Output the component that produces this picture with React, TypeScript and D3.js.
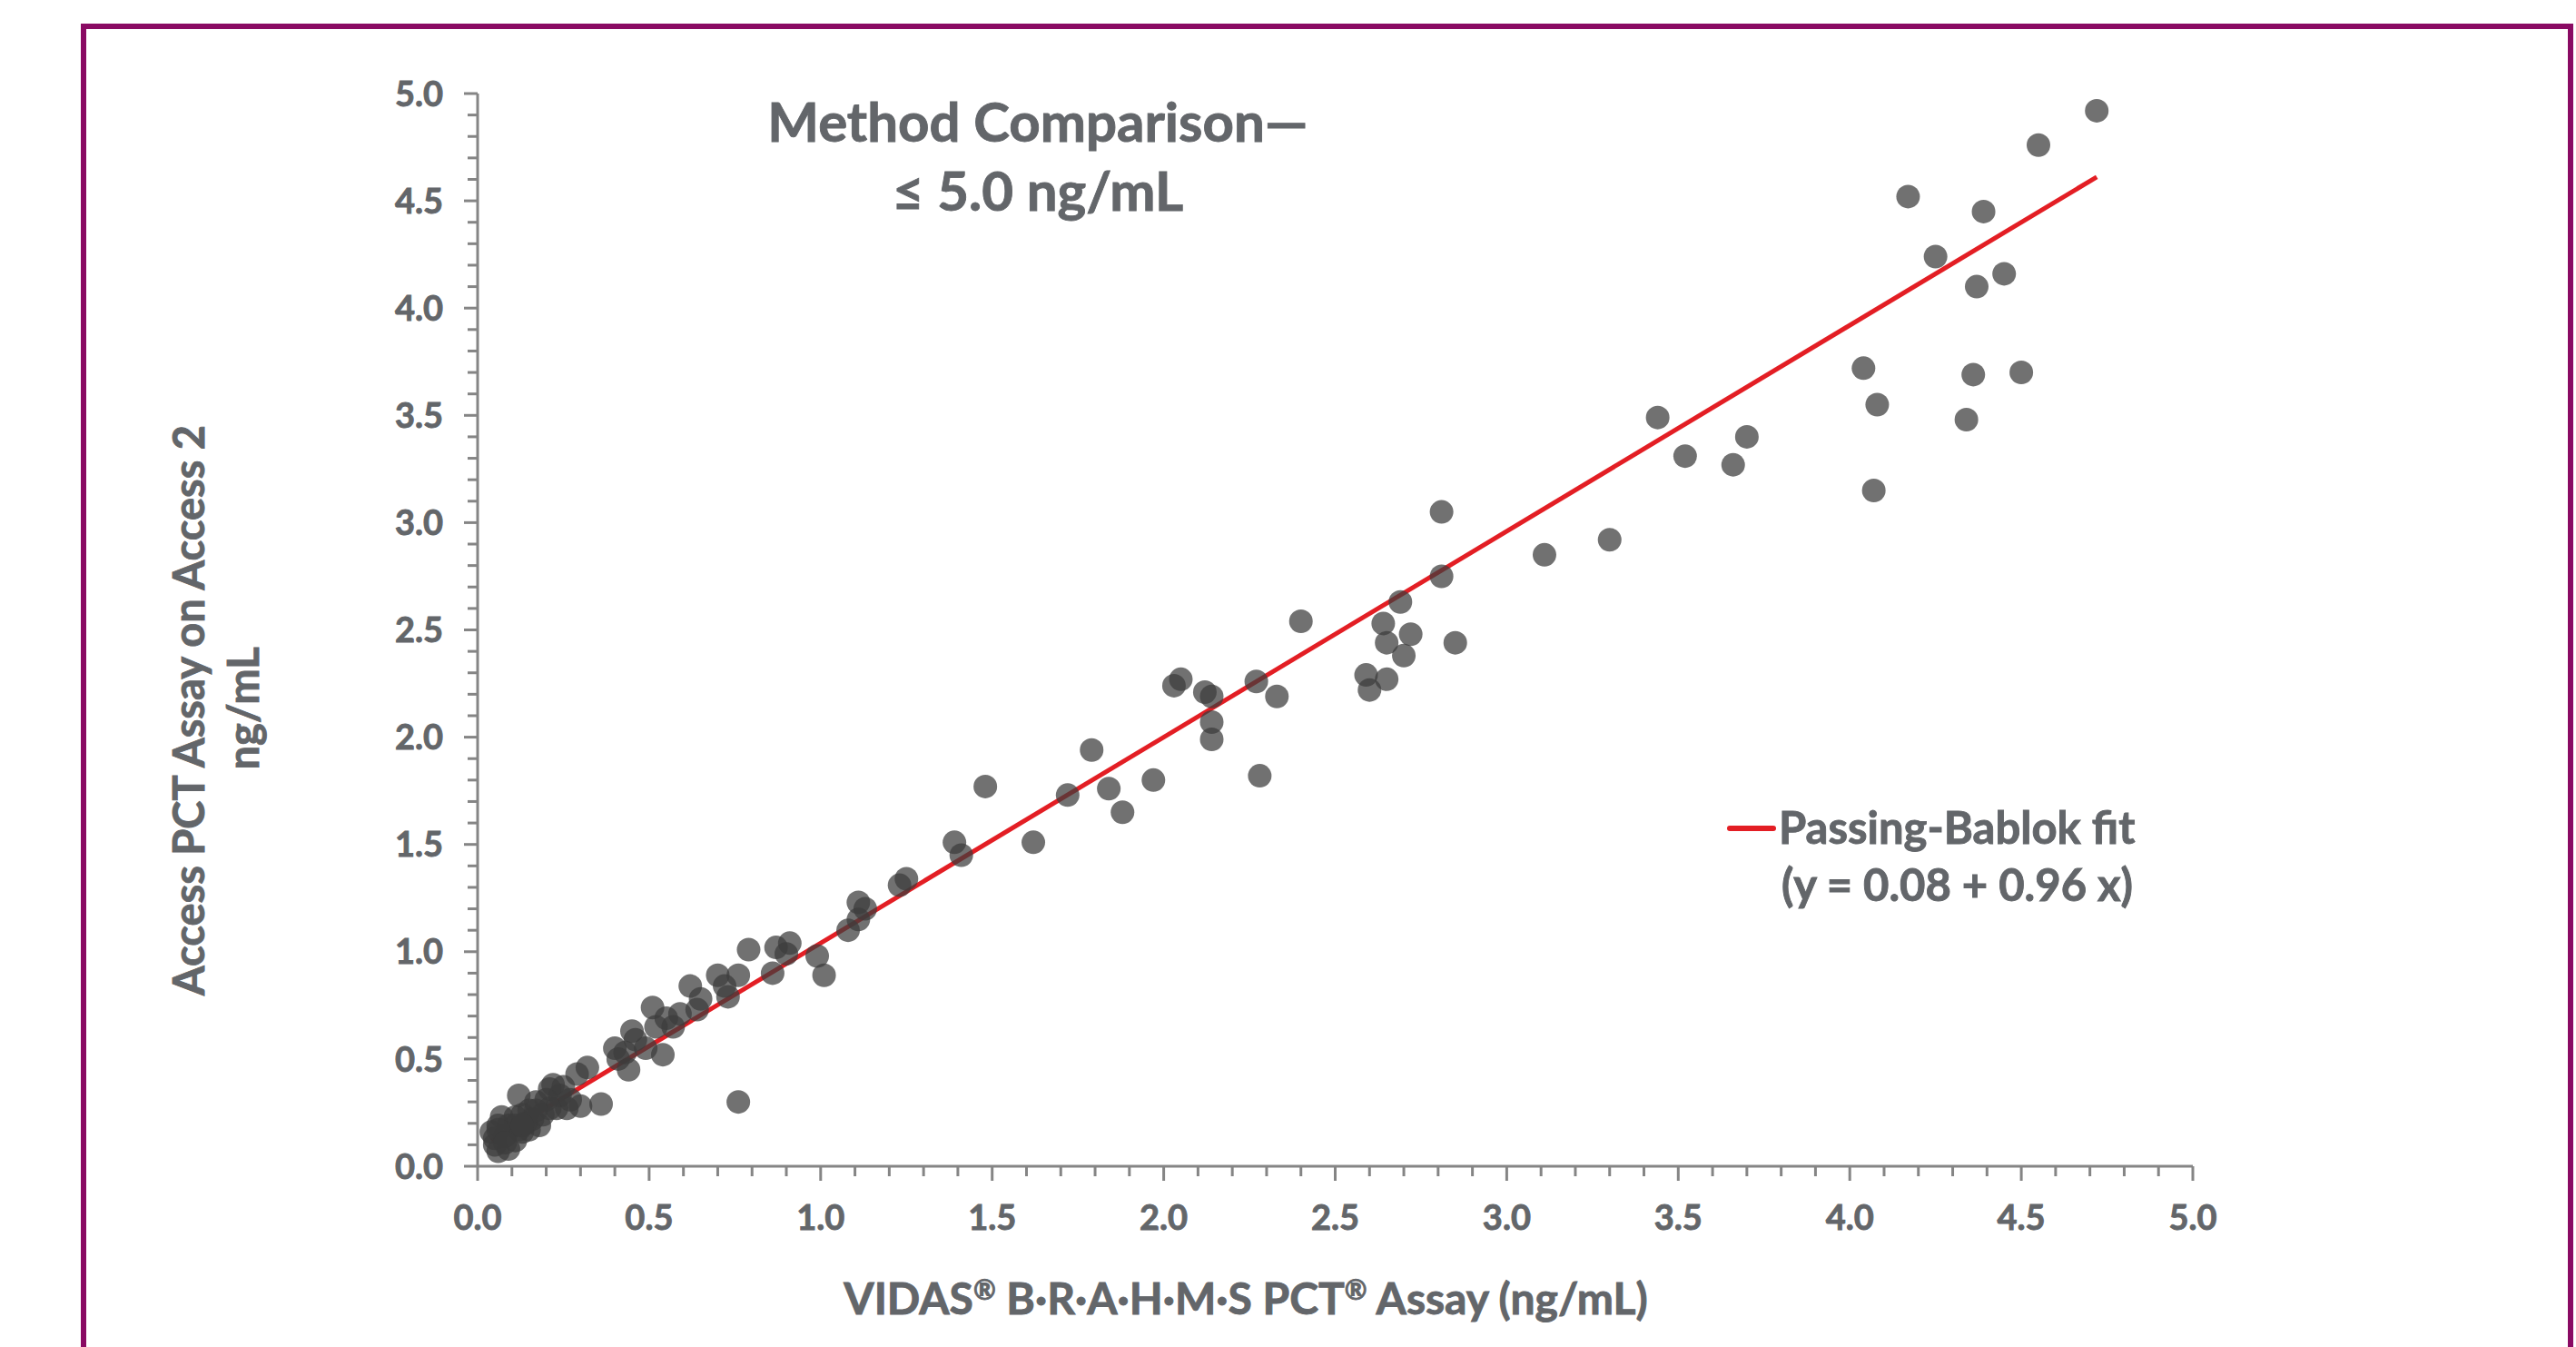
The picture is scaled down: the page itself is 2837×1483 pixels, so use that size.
import React from "react";
import * as d3 from "d3";

// VIDAS B·R·A·H·M·S PCT (x) vs Access PCT on Access 2 (y), ng/mL
const vidas = [
  4.72, 4.55, 4.17, 4.39, 4.25, 4.45, 4.37, 4.04, 4.36, 4.5, 4.08, 4.34, 4.07, 3.44, 3.52, 3.7, 3.66, 3.3,
  2.81, 2.81, 2.69, 2.64, 2.72, 2.65, 2.7, 2.85, 3.11, 2.4, 2.27, 2.33, 2.59, 2.6, 2.65, 2.28,
  2.03, 2.05, 2.12, 2.14, 2.14, 2.14, 1.79, 1.72, 1.84, 1.88, 1.97, 1.48, 1.62, 1.39, 1.41,
  1.23, 1.25, 1.11, 1.13, 1.11, 1.08, 0.79, 0.87, 0.91, 0.9, 0.99, 1.01, 0.86, 0.7, 0.76, 0.72, 0.73,
  0.62, 0.65, 0.64, 0.51, 0.59, 0.57, 0.55, 0.52, 0.45, 0.46, 0.49, 0.54, 0.4, 0.43, 0.41, 0.44, 0.76, 0.36,
  0.32, 0.29, 0.3, 0.26, 0.23, 0.22, 0.21, 0.25, 0.24, 0.2, 0.27, 0.12, 0.17, 0.15, 0.13, 0.11, 0.16,
  0.15, 0.18, 0.07, 0.06, 0.09, 0.12, 0.05, 0.08, 0.06, 0.09, 0.05, 0.11, 0.13, 0.04, 0.11, 0.14, 0.19,
  0.21, 0.17, 0.06, 0.08, 0.13,
];
const access = [
  4.92, 4.76, 4.52, 4.45, 4.24, 4.16, 4.1, 3.72, 3.69, 3.7, 3.55, 3.48, 3.15, 3.49, 3.31, 3.4, 3.27, 2.92,
  3.05, 2.75, 2.63, 2.53, 2.48, 2.44, 2.38, 2.44, 2.85, 2.54, 2.26, 2.19, 2.29, 2.22, 2.27, 1.82,
  2.24, 2.27, 2.21, 2.19, 2.07, 1.99, 1.94, 1.73, 1.76, 1.65, 1.8, 1.77, 1.51, 1.51, 1.45,
  1.31, 1.34, 1.23, 1.2, 1.15, 1.1, 1.01, 1.02, 1.04, 0.99, 0.98, 0.89, 0.9, 0.89, 0.89, 0.84, 0.79,
  0.84, 0.78, 0.73, 0.74, 0.71, 0.65, 0.69, 0.65, 0.63, 0.59, 0.55, 0.52, 0.55, 0.53, 0.5, 0.45, 0.3, 0.29,
  0.46, 0.43, 0.28, 0.27, 0.27, 0.38, 0.36, 0.37, 0.33, 0.31, 0.31, 0.33, 0.3, 0.26, 0.24, 0.23, 0.22,
  0.17, 0.19, 0.23, 0.19, 0.19, 0.17, 0.13, 0.14, 0.07, 0.08, 0.1, 0.12, 0.16, 0.16, 0.19, 0.2, 0.24,
  0.27, 0.26, 0.17, 0.11, 0.19,
];

// Passing-Bablok fit: y = 0.08 + 0.96 x
const fitIntercept = 0.08;
const fitSlope = 0.96;

const axisTicks = d3.range(0, 51).map((i) => i / 10);
const labelTicks = [0, 0.5, 1, 1.5, 2, 2.5, 3, 3.5, 4, 4.5, 5];

const titleLines = ["Method Comparison\u2014", "\u2264 5.0 ng/mL"];
const yTitleLines = ["Access PCT Assay on Access 2", "ng/mL"];
const legendLines = ["Passing-Bablok fit", "(y = 0.08 + 0.96 x)"];

const textColor = "#63666a";
const axisColor = "#858585";

// small raised registered mark, like the original
const Reg = () => (
  <tspan fontSize={30} baselineShift="55%">{"\u00AE"}</tspan>
);

export default function App() {
  const width = 2837;
  const height = 1483;

  const x = d3.scaleLinear().domain([0, 5]).range([526, 2415]);
  const y = d3.scaleLinear().domain([0, 5]).range([1284, 103]);

  const points = vidas.map((v, i) => ({ x: v, y: access[i] }));
  const [xmin, xmax] = d3.extent(vidas) as [number, number];
  const fitLine = d3
    .line<number>()
    .x((d) => x(d))
    .y((d) => y(fitIntercept + fitSlope * d));

  const isMajor = (t: number) => Math.abs(t * 2 - Math.round(t * 2)) < 1e-6;
  const fmt = d3.format(".1f");

  return (
    <svg
      width={width}
      height={height}
      style={{ position: "absolute", left: 0, top: 0, background: "#fff" }}
      fontFamily="Lato, 'Open Sans', sans-serif"
      fontWeight={700}
    >
      {/* frame */}
      <rect x={92} y={29} width={2739} height={1600} fill="none" stroke="#8a0a63" strokeWidth={6} />

      <g fill={textColor} stroke={textColor} strokeWidth={0.9}>
        {/* title */}
        <g fontSize={60} textAnchor="middle">
          <text x={1143} y={156}>{titleLines[0]}</text>
          <text x={1143} y={232}>{titleLines[1]}</text>
        </g>

        {/* tick labels */}
        <g fontSize={38} textAnchor="end">
          {labelTicks.map((t) => (
            <text key={"yl" + t} x={x(0) - 38} y={y(t)} dy="0.36em">{fmt(t)}</text>
          ))}
        </g>
        <g fontSize={38} textAnchor="middle">
          {labelTicks.map((t) => (
            <text key={"xl" + t} x={x(t)} y={1340} dy="0.36em">{fmt(t)}</text>
          ))}
        </g>

        {/* axis titles */}
        <text x={1372} y={1447} fontSize={48} textAnchor="middle">
          VIDAS<Reg /> B{"\u00B7"}R{"\u00B7"}A{"\u00B7"}H{"\u00B7"}M{"\u00B7"}S PCT<Reg /> Assay (ng/mL)
        </text>
        <g fontSize={47} textAnchor="middle">
          <text transform="translate(225,782) rotate(-90)">{yTitleLines[0]}</text>
          <text transform="translate(285,780) rotate(-90)">{yTitleLines[1]}</text>
        </g>

        {/* legend text */}
        <g fontSize={49}>
          <text x={1959} y={929}>{legendLines[0]}</text>
          <text x={1962} y={992}>{legendLines[1]}</text>
        </g>
      </g>

      {/* y axis */}
      <g stroke={axisColor} strokeWidth={3}>
        <line x1={x(0)} x2={x(0)} y1={y(5)} y2={y(0)} />
        {axisTicks.map((t) => (
          <line key={"yt" + t} x1={x(0) - (isMajor(t) ? 15 : 11)} x2={x(0)} y1={y(t)} y2={y(t)} />
        ))}
      </g>

      {/* x axis */}
      <g stroke={axisColor} strokeWidth={3}>
        <line x1={x(0)} x2={x(5)} y1={y(0)} y2={y(0)} />
        {axisTicks.map((t) => (
          <line key={"xt" + t} x1={x(t)} x2={x(t)} y1={y(0)} y2={y(0) + (isMajor(t) ? 16 : 11)} />
        ))}
      </g>

      {/* fit line */}
      <path d={fitLine([xmin, xmax]) ?? ""} fill="none" stroke="#e31e24" strokeWidth={5} />

      {/* points */}
      <g fill="#3c3c3c" fillOpacity={0.73}>
        {points.map((p, i) => (
          <circle key={i} cx={x(p.x)} cy={y(p.y)} r={13} />
        ))}
      </g>

      {/* legend swatch */}
      <line x1={1905} x2={1953} y1={912} y2={912} stroke="#e31e24" strokeWidth={6} strokeLinecap="round" />
    </svg>
  );
}
